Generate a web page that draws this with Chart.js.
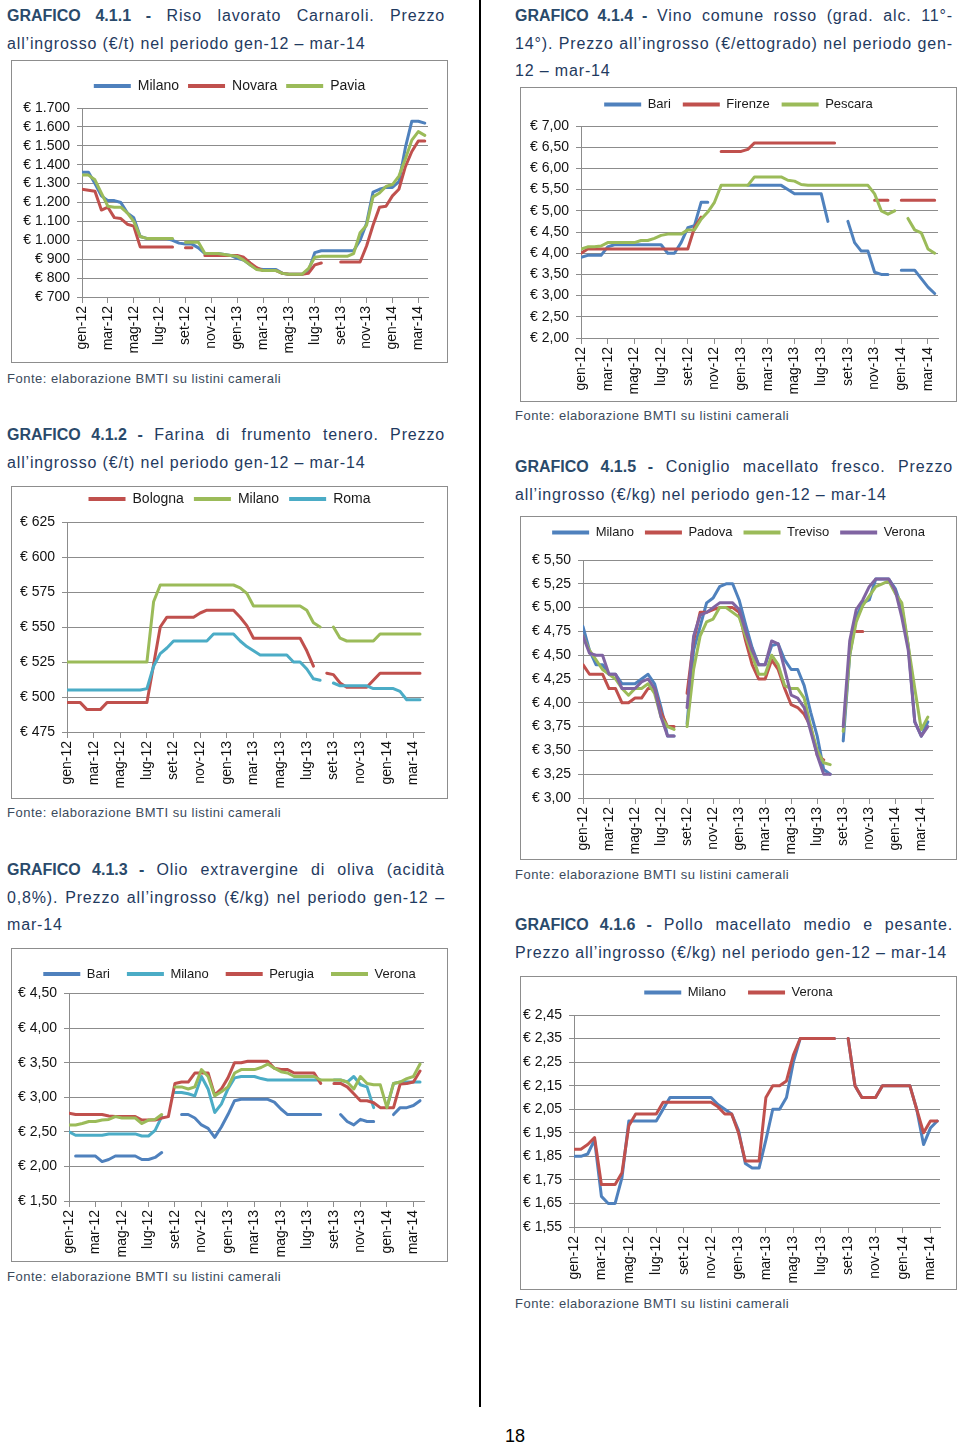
<!DOCTYPE html>
<html lang="it">
<head>
<meta charset="utf-8">
<title>Prezzi all'ingrosso - grafici 4.1.1 - 4.1.6</title>
<script src="https://cdn.jsdelivr.net/npm/chart.js@4.4.1/dist/chart.umd.min.js"></script>
<style>
  html, body { margin: 0; padding: 0; background: #fff; }
  body { position: relative; width: 960px; height: 1446px; overflow: hidden;
         font-family: "Liberation Sans", Arial, sans-serif; }
  .titolo { position: absolute; width: 438px; font-size: 16px; line-height: 27.5px;
            color: #1f3a60; letter-spacing: 0.85px; }
  .titolo .riga { text-align: justify; text-align-last: justify; white-space: nowrap; }
  .titolo .ultima { text-align: left; white-space: nowrap; }
  .titolo b { color: #2a4a6b; letter-spacing: 0; }
  .fonte { position: absolute; font-size: 13px; line-height: 16px; color: #3b4a5c;
           white-space: nowrap; letter-spacing: 0.5px; }
  .riquadro { position: absolute; border: 1px solid #8d8d8d; background: #fff; }
  .riquadro canvas { display: block; }
  #linea { position: absolute; left: 479px; top: 0; width: 2px; height: 1407px; background: #000; }
  #pagina { position: absolute; left: 505px; top: 1426px; font-size: 18px; color: #000; }
</style>
</head>
<body>

<div class="titolo" style="left:7px; top:2px">
  <div class="riga"><b>GRAFICO 4.1.1 -</b> Riso lavorato Carnaroli. Prezzo</div>
  <div class="ultima">all’ingrosso (€/t) nel periodo gen-12 – mar-14</div>
</div>
<div class="riquadro" style="left:11px; top:60px"><canvas id="g411" width="435" height="301"></canvas></div>
<div class="fonte" style="left:7px; top:371px">Fonte: elaborazione BMTI su listini camerali</div>

<div class="titolo" style="left:7px; top:421px">
  <div class="riga"><b>GRAFICO 4.1.2 -</b> Farina di frumento tenero. Prezzo</div>
  <div class="ultima">all’ingrosso (€/t) nel periodo gen-12 – mar-14</div>
</div>
<div class="riquadro" style="left:11px; top:486px"><canvas id="g412" width="435" height="311"></canvas></div>
<div class="fonte" style="left:7px; top:805px">Fonte: elaborazione BMTI su listini camerali</div>

<div class="titolo" style="left:7px; top:856px">
  <div class="riga"><b>GRAFICO 4.1.3 -</b> Olio extravergine di oliva (acidità</div>
  <div class="riga">0,8%). Prezzo all’ingrosso (€/kg) nel periodo gen-12 –</div>
  <div class="ultima">mar-14</div>
</div>
<div class="riquadro" style="left:11px; top:948px"><canvas id="g413" width="435" height="312"></canvas></div>
<div class="fonte" style="left:7px; top:1269px">Fonte: elaborazione BMTI su listini camerali</div>

<div class="titolo" style="left:515px; top:2px">
  <div class="riga"><b>GRAFICO 4.1.4 -</b> Vino comune rosso (grad. alc. 11°-</div>
  <div class="riga">14°). Prezzo all’ingrosso (€/ettogrado) nel periodo gen-</div>
  <div class="ultima">12 – mar-14</div>
</div>
<div class="riquadro" style="left:520px; top:87px"><canvas id="g414" width="435" height="313"></canvas></div>
<div class="fonte" style="left:515px; top:408px">Fonte: elaborazione BMTI su listini camerali</div>

<div class="titolo" style="left:515px; top:453px">
  <div class="riga"><b>GRAFICO 4.1.5 -</b> Coniglio macellato fresco. Prezzo</div>
  <div class="ultima">all’ingrosso (€/kg) nel periodo gen-12 – mar-14</div>
</div>
<div class="riquadro" style="left:520px; top:516px"><canvas id="g415" width="435" height="342"></canvas></div>
<div class="fonte" style="left:515px; top:867px">Fonte: elaborazione BMTI su listini camerali</div>

<div class="titolo" style="left:515px; top:911px">
  <div class="riga"><b>GRAFICO 4.1.6 -</b> Pollo macellato medio e pesante.</div>
  <div class="ultima">Prezzo all’ingrosso (€/kg) nel periodo gen-12 – mar-14</div>
</div>
<div class="riquadro" style="left:520px; top:976px"><canvas id="g416" width="435" height="312"></canvas></div>
<div class="fonte" style="left:515px; top:1296px">Fonte: elaborazione BMTI su listini camerali</div>

<div id="linea"></div>
<div id="pagina">18</div>

<script>
// ---------- Dati: due rilevazioni al mese, gen-12 .. mar-14 (null = dato mancante) ----------
var MESI = ['gen-12', 'feb-12', 'mar-12', 'apr-12', 'mag-12', 'giu-12', 'lug-12', 'ago-12', 'set-12',
            'ott-12', 'nov-12', 'dic-12', 'gen-13', 'feb-13', 'mar-13', 'apr-13', 'mag-13', 'giu-13',
            'lug-13', 'ago-13', 'set-13', 'ott-13', 'nov-13', 'dic-13', 'gen-14', 'feb-14', 'mar-14'];
var ETICHETTE_X = ['gen-12', 'mar-12', 'mag-12', 'lug-12', 'set-12', 'nov-12', 'gen-13',
                   'mar-13', 'mag-13', 'lug-13', 'set-13', 'nov-13', 'gen-14', 'mar-14'];

// 4.1.1 Riso lavorato Carnaroli (euro/t)
var RISO_MILANO = [1360, 1360, 1300, 1235, 1210, 1210, 1200, 1145, 1120, 1020, 1010, 1010,
                   1010, 1010, 1000, 985, 980, 980, 960, 930, 930, 930, 925, 920,
                   905, 895, 870, 850, 845, 845, 845, 825, 820, 820, 820, 835,
                   935, 945, 945, 945, 945, 945, 945, 1000, 1090, 1255, 1270, 1280,
                   1280, 1310, 1490, 1630, 1630, 1620];
var RISO_NOVARA = [1270, 1265, 1260, 1160, 1175, 1120, 1115, 1085, 1075, 965, 965, 965,
                   965, 965, 965, null, 960, 960, null, 920, 920, 920, 920, 920,
                   920, 910, 880, 855, 840, 840, 840, 825, 820, 820, 820, 825,
                   870, 880, null, null, 885, 885, 885, 885, 970, 1080, 1175, 1180,
                   1235, 1270, 1390, 1470, 1525, 1525];
var RISO_PAVIA = [1345, 1345, 1320, 1250, 1180, 1175, 1175, 1145, 1100, 1020, 1010, 1010,
                  1010, 1010, 1010, null, 990, 990, 990, 930, 930, 930, 925, 920,
                  915, 895, 870, 845, 840, 840, 840, 825, 820, 820, 820, 850,
                  910, 915, 915, 915, 915, 915, 930, 1040, 1080, 1230, 1250, 1285,
                  1295, 1340, 1430, 1530, 1575, 1555];

// 4.1.2 Farina di frumento tenero (euro/t)
var FARINA_BOLOGNA = [496, 496, 496, 491, 491, 491, 496, 496, 496, 496, 496, 496,
                      496, 523, 550, 557, 557, 557, 557, 557, 560, 562, 562, 562,
                      562, 562, 557, 551, 542, 542, 542, 542, 542, 542, 542, 542,
                      533, 522, null, 517, 516, 510, 507, 507, 507, 507, 512, 517,
                      517, 517, 517, 517, 517, 517];
var FARINA_MILANO = [525, 525, 525, 525, 525, 525, 525, 525, 525, 525, 525, 525,
                     525, 568, 580, 580, 580, 580, 580, 580, 580, 580, 580, 580,
                     580, 580, 578, 574, 565, 565, 565, 565, 565, 565, 565, 565,
                     562, 553, 550, null, 550, 542, 540, 540, 540, 540, 540, 545,
                     545, 545, 545, 545, 545, 545];
var FARINA_ROMA = [505, 505, 505, 505, 505, 505, 505, 505, 505, 505, 505, 505,
                   506, 522, 531, 535, 540, 540, 540, 540, 540, 540, 545, 545,
                   545, 545, 540, 536, 533, 530, 530, 530, 530, 530, 525, 525,
                   520, 513, 512, null, 510, 508, 508, 508, 508, 508, 506, 506,
                   506, 506, 504, 498, 498, 498];

// 4.1.3 Olio extravergine di oliva (euro/kg)
var OLIO_BARI = [null, 2.15, 2.15, 2.15, 2.15, 2.07, 2.10, 2.15, 2.15, 2.15, 2.15, 2.10,
                 2.10, 2.13, 2.20, null, null, 2.75, 2.75, 2.70, 2.60, 2.55, 2.42, 2.57,
                 2.75, 2.95, 2.97, 2.97, 2.97, 2.97, 2.97, 2.93, 2.83, 2.75, 2.75, 2.75,
                 2.75, 2.75, 2.75, null, null, 2.75, 2.65, 2.60, 2.68, 2.65, 2.65, null,
                 null, 2.75, 2.85, 2.85, 2.88, 2.95];
var OLIO_MILANO = [2.50, 2.45, 2.45, 2.45, 2.45, 2.45, 2.47, 2.47, 2.47, 2.47, 2.47, 2.44,
                   2.44, 2.52, 2.72, null, 3.07, 3.07, 3.05, 3.02, 3.30, 3.12, 2.78, 2.90,
                   3.12, 3.28, 3.30, 3.30, 3.30, 3.27, 3.25, 3.25, 3.25, 3.25, 3.25, 3.25,
                   3.25, 3.25, 3.25, null, 3.25, 3.25, 3.22, 3.30, 3.18, 3.15, 2.85, null,
                   2.85, 3.20, 3.22, 3.22, 3.22, 3.22];
var OLIO_PERUGIA = [2.77, 2.75, 2.75, 2.75, 2.75, 2.75, 2.73, 2.72, 2.72, 2.72, 2.72, 2.67,
                    2.67, 2.67, 2.70, 2.72, 3.20, 3.22, 3.22, 3.35, 3.35, 3.35, 3.03, 3.12,
                    3.28, 3.50, 3.50, 3.52, 3.52, 3.52, 3.52, 3.42, 3.40, 3.40, 3.35, 3.35,
                    3.35, 3.35, 3.20, null, 3.20, 3.20, 3.15, 3.05, 2.95, 2.95, 2.92, 2.85,
                    2.85, 2.85, 3.19, 3.20, 3.22, 3.38];
var OLIO_VERONA = [2.60, 2.60, 2.62, 2.65, 2.65, 2.67, 2.68, 2.72, 2.70, 2.70, 2.70, 2.62,
                   2.67, 2.68, 2.75, null, 3.15, 3.15, 3.12, 3.15, 3.40, 3.30, 3.02, 3.08,
                   3.15, 3.35, 3.40, 3.40, 3.40, 3.43, 3.48, 3.42, 3.37, 3.35, 3.30, 3.30,
                   3.30, 3.30, 3.25, 3.25, 3.25, 3.25, 3.22, 3.12, 3.30, 3.20, 3.18, 3.18,
                   2.85, 3.20, 3.22, 3.27, 3.30, 3.48];

// 4.1.4 Vino comune rosso (euro/ettogrado)
var VINO_BARI = [3.90, 3.95, 3.95, 3.95, 4.15, 4.20, 4.20, 4.20, 4.20, 4.20, 4.20, 4.20,
                 4.20, 4.00, 4.00, 4.25, 4.60, 4.65, 5.20, 5.20, null, null, null, null,
                 null, 5.60, 5.60, 5.60, 5.60, 5.60, 5.60, 5.50, 5.40, 5.40, 5.40, 5.40,
                 5.40, 4.75, null, null, 4.75, 4.25, 4.05, 4.05, 3.55, 3.50, 3.50, null,
                 3.60, 3.60, 3.60, 3.40, 3.20, 3.05];
var VINO_FIRENZE = [4.00, 4.10, 4.10, 4.10, 4.10, 4.10, 4.10, 4.10, 4.10, 4.10, 4.10, 4.10,
                    4.10, 4.10, 4.10, 4.10, 4.10, 4.60, 4.85, null, null, 6.40, 6.40, 6.40,
                    6.40, 6.45, 6.60, 6.60, 6.60, 6.60, 6.60, 6.60, 6.60, 6.60, 6.60, 6.60,
                    6.60, 6.60, 6.60, null, null, null, null, null, 5.25, 5.25, 5.25, null,
                    5.25, 5.25, 5.25, 5.25, 5.25, 5.25];
var VINO_PESCARA = [4.10, 4.15, 4.15, 4.17, 4.25, 4.25, 4.25, 4.25, 4.25, 4.30, 4.30, 4.35,
                    4.42, 4.45, 4.45, 4.45, 4.55, 4.55, 4.80, 4.97, 5.20, 5.60, 5.60, 5.60,
                    5.60, 5.60, 5.80, 5.80, 5.80, 5.80, 5.80, 5.72, 5.70, 5.62, 5.60, 5.60,
                    5.60, 5.60, 5.60, 5.60, 5.60, 5.60, 5.60, 5.60, 5.40, 5.00, 4.92, 5.00,
                    null, 4.82, 4.55, 4.48, 4.10, 4.00];

// 4.1.5 Coniglio macellato fresco (euro/kg)
var CONIGLIO_MILANO = [4.80, 4.55, 4.40, 4.40, 4.30, 4.30, 4.20, 4.20, 4.20, 4.25, 4.30, 4.20,
                       3.95, 3.65, 3.65, null, 3.78, 4.55, 4.80, 5.05, 5.10, 5.22, 5.25, 5.25,
                       5.08, 4.82, 4.58, 4.40, 4.40, 4.60, 4.62, 4.45, 4.35, 4.35, 4.18, 3.90,
                       3.65, 3.30, 3.25, null, 3.60, 4.50, 4.90, 5.05, 5.08, 5.30, 5.30, 5.30,
                       5.20, 5.00, 4.60, 3.80, 3.65, 3.80];
var CONIGLIO_PADOVA = [4.40, 4.30, 4.30, 4.30, 4.15, 4.15, 4.00, 4.00, 4.05, 4.05, 4.15, 4.15,
                       3.90, 3.75, 3.75, null, 4.10, 4.65, 4.95, 4.95, 4.98, 5.00, 5.00, 5.00,
                       4.95, 4.65, 4.40, 4.25, 4.25, 4.45, 4.35, 4.15, 3.98, 3.95, 3.88, 3.75,
                       3.45, 3.40, null, null, null, null, 4.75, 4.75, null, null, null, null,
                       null, null, null, null, null, null];
var CONIGLIO_TREVISO = [4.70, 4.55, 4.45, 4.35, 4.30, 4.25, 4.15, 4.08, 4.15, 4.15, 4.20, 4.10,
                        3.85, 3.75, 3.72, null, 3.75, 4.35, 4.70, 4.85, 4.88, 5.00, 5.00, 4.95,
                        4.90, 4.70, 4.50, 4.30, 4.30, 4.50, 4.40, 4.18, 4.15, 4.15, 4.05, 3.75,
                        3.50, 3.37, 3.35, null, 3.70, 4.50, 4.85, 5.02, 5.12, 5.22, 5.25, 5.28,
                        5.15, 5.05, 4.60, 4.15, 3.72, 3.85];
var CONIGLIO_VERONA = [4.70, 4.52, 4.50, 4.50, 4.30, 4.30, 4.15, 4.15, 4.15, 4.22, 4.25, 4.15,
                       3.85, 3.65, 3.65, null, 3.95, 4.70, 4.92, 4.95, 5.00, 5.05, 5.05, 5.05,
                       4.98, 4.75, 4.55, 4.40, 4.40, 4.65, 4.62, 4.35, 4.08, 4.05, 3.95, 3.70,
                       3.45, 3.25, 3.25, null, 3.75, 4.65, 4.98, 5.08, 5.22, 5.30, 5.30, 5.30,
                       5.18, 4.90, 4.55, 3.80, 3.65, 3.75];

// 4.1.6 Pollo macellato medio e pesante (euro/kg)
var POLLO_MILANO = [1.85, 1.85, 1.86, 1.92, 1.68, 1.65, 1.65, 1.76, 2.00, 2.00, 2.00, 2.00,
                    2.00, 2.05, 2.10, 2.10, 2.10, 2.10, 2.10, 2.10, 2.10, 2.07, 2.05, 2.03,
                    1.96, 1.82, 1.80, 1.80, 1.92, 2.05, 2.05, 2.10, 2.25, 2.35, 2.35, 2.35,
                    2.35, 2.35, 2.35, null, 2.35, 2.15, 2.10, 2.10, 2.10, 2.15, 2.15, 2.15,
                    2.15, 2.15, 2.05, 1.90, 1.97, 2.00];
var POLLO_VERONA = [1.88, 1.88, 1.90, 1.93, 1.73, 1.73, 1.73, 1.78, 1.98, 2.03, 2.03, 2.03,
                    2.03, 2.08, 2.08, 2.08, 2.08, 2.08, 2.08, 2.08, 2.08, 2.06, 2.03, 2.03,
                    1.95, 1.83, 1.83, 1.83, 2.10, 2.15, 2.15, 2.17, 2.28, 2.35, 2.35, 2.35,
                    2.35, 2.35, 2.35, null, 2.35, 2.15, 2.10, 2.10, 2.10, 2.15, 2.15, 2.15,
                    2.15, 2.15, 2.05, 1.95, 2.00, 2.00];

// ---------- Stile ----------
var GRIGIO = '#8c8c8c';
var BLU = '#4F81BD', ROSSO = '#C0504D', VERDE = '#9BBB59', VIOLA = '#8064A2', AZZURRO = '#4BACC6';

// posizione (in mesi da gen-12) di ogni rilevazione
var POSIZIONI = MESI.flatMap(function (m, k) { return [k, k + 0.5]; });

Chart.defaults.font.family = '"Liberation Sans", Arial, sans-serif';

function fmtMigliaia(v) {
    var s = v >= 1000 ? Math.floor(v / 1000) + '.' + String(v % 1000).padStart(3, '0') : String(v);
    return '€ ' + s;
}
function fmtIntero(v) { return '€ ' + v; }
function fmtDecimali(v) { return '€ ' + v.toFixed(2).replace('.', ','); }

// spazio extra sotto la legenda (distanza legenda - area del grafico)
var spazioLegenda = {
    id: 'spazioLegenda',
    beforeLayout: function (chart, args, opts) {
        var lg = chart.legend;
        if (lg && !lg._spazio) {
            var fit = lg.fit;
            lg.fit = function () { fit.call(this); this.height += opts.extra || 0; };
            lg._spazio = true;
        }
    }
};

function grafico(id, serie, g) {
    var datasets = serie.map(function (s, i) {
        return {
            label: s[0], data: s[1],
            borderColor: s[2], backgroundColor: s[2],
            borderWidth: 3, pointRadius: 0, pointHoverRadius: 0,
            tension: 0, fill: false, spanGaps: false,
            borderJoinStyle: 'round', borderCapStyle: 'round',
            order: serie.length - i   // come Excel: l'ultima serie sopra
        };
    });

    return new Chart(document.getElementById(id), {
        type: 'line',
        data: { labels: POSIZIONI, datasets: datasets },
        plugins: [spazioLegenda],
        options: {
            responsive: false, animation: false, events: [], devicePixelRatio: 1,
            layout: { padding: { left: 0, right: 0, top: g.alto, bottom: 0 } },
            plugins: {
                spazioLegenda: { extra: g.extra },
                tooltip: { enabled: false },
                legend: {
                    position: 'top',
                    labels: {
                        boxWidth: 37, boxHeight: 4, padding: g.legPad,
                        color: '#1a1a1a', font: { size: g.legFont },
                        sort: function (a, b) { return a.datasetIndex - b.datasetIndex; },
                        generateLabels: function (chart) {
                            return Chart.defaults.plugins.legend.labels.generateLabels(chart).map(function (l) {
                                l.fillStyle = l.strokeStyle;
                                l.lineWidth = 0;
                                return l;
                            });
                        }
                    }
                }
            },
            scales: {
                x: {
                    type: 'linear', min: 0, max: g.xmax, bounds: 'data', offset: false,
                    grid: { drawOnChartArea: false, drawTicks: true, tickLength: 6, color: GRIGIO },
                    border: { color: GRIGIO, width: 1 },
                    ticks: {
                        stepSize: 2, maxTicksLimit: 100, includeBounds: false, autoSkip: false,
                        minRotation: 90, maxRotation: 90, padding: 3,
                        color: '#111', font: { size: g.font },
                        callback: function (v) {
                            return Number.isInteger(v / 2) ? ETICHETTE_X[v / 2] : null;
                        }
                    },
                    afterFit: function (s) { s.height = g.asseX; s.paddingRight = g.destra; }
                },
                y: {
                    min: g.min, max: g.max,
                    grid: { color: GRIGIO, tickLength: 5 },
                    border: { color: GRIGIO },
                    ticks: {
                        stepSize: g.passo, maxTicksLimit: 100, autoSkip: false, padding: 7,
                        color: '#111', font: { size: g.font },
                        callback: g.fmt
                    },
                    afterFit: function (s) { s.width = g.sinistra; }
                }
            }
        }
    });
}

grafico('g411', [
    ['Milano', RISO_MILANO, BLU],
    ['Novara', RISO_NOVARA, ROSSO],
    ['Pavia', RISO_PAVIA, VERDE]
], { min: 700, max: 1700, passo: 100, fmt: fmtMigliaia, font: 14, legFont: 14, legPad: 9,
     alto: 9, extra: 5, sinistra: 70, destra: 19, asseX: 65, xmax: 26.75 });

grafico('g412', [
    ['Bologna', FARINA_BOLOGNA, ROSSO],
    ['Milano', FARINA_MILANO, VERDE],
    ['Roma', FARINA_ROMA, AZZURRO]
], { min: 475, max: 625, passo: 25, fmt: fmtIntero, font: 14, legFont: 14, legPad: 10,
     alto: -5, extra: 6, sinistra: 55, destra: 23, asseX: 66, xmax: 26.8 });

grafico('g413', [
    ['Bari', OLIO_BARI, BLU],
    ['Milano', OLIO_MILANO, AZZURRO],
    ['Perugia', OLIO_PERUGIA, ROSSO],
    ['Verona', OLIO_VERONA, VERDE]
], { min: 1.5, max: 4.5, passo: 0.5, fmt: fmtDecimali, font: 14, legFont: 13, legPad: 17,
     alto: 1.5, extra: 3, sinistra: 57, destra: 23, asseX: 60, xmax: 26.8 });

grafico('g414', [
    ['Bari', VINO_BARI, BLU],
    ['Firenze', VINO_FIRENZE, ROSSO],
    ['Pescara', VINO_PESCARA, VERDE]
], { min: 2, max: 7, passo: 0.5, fmt: fmtDecimali, font: 14, legFont: 13, legPad: 12,
     alto: -2, extra: 5, sinistra: 60, destra: 18, asseX: 63, xmax: 26.75 });

grafico('g415', [
    ['Milano', CONIGLIO_MILANO, BLU],
    ['Padova', CONIGLIO_PADOVA, ROSSO],
    ['Treviso', CONIGLIO_TREVISO, VERDE],
    ['Verona', CONIGLIO_VERONA, VIOLA]
], { min: 3, max: 5.5, passo: 0.25, fmt: fmtDecimali, font: 14, legFont: 13, legPad: 11,
     alto: -2, extra: 11, sinistra: 62, destra: 23, asseX: 61, xmax: 26.9 });

grafico('g416', [
    ['Milano', POLLO_MILANO, BLU],
    ['Verona', POLLO_VERONA, ROSSO]
], { min: 1.55, max: 2.45, passo: 0.1, fmt: fmtDecimali, font: 14, legFont: 13, legPad: 22,
     alto: -13, extra: 6, sinistra: 53, destra: 16, asseX: 62, xmax: 26.7 });
</script>
</body>
</html>
